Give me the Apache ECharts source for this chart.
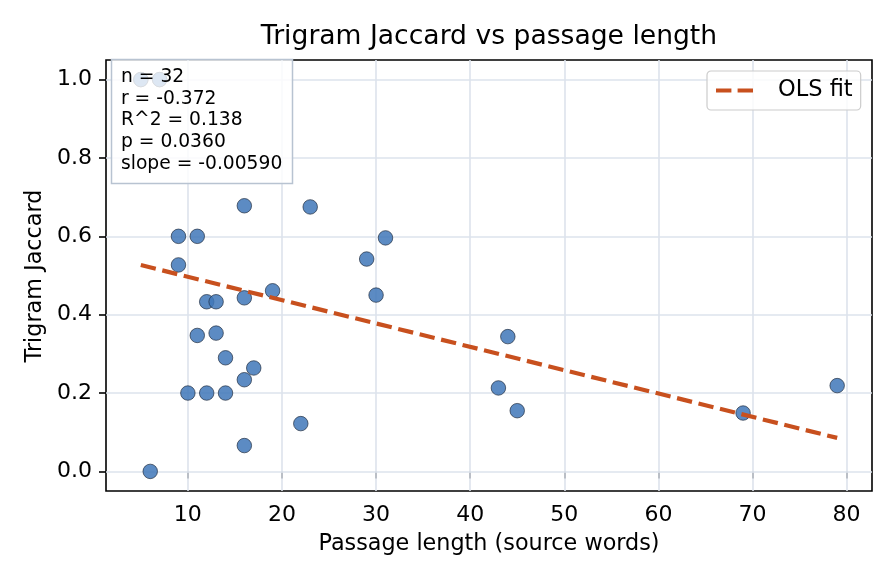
<!DOCTYPE html>
<html><head><meta charset="utf-8">
<script src="https://cdn.jsdelivr.net/npm/echarts@6/dist/echarts.min.js"></script>
<style>html,body{margin:0;padding:0;background:#fff}#c{width:896px;height:584px}</style>
</head><body><div id="c"></div>
<script>
// ---- data ----
const passageLength = [6, 9, 11, 9, 11, 10, 12, 14, 12, 13, 13, 14, 16, 17, 16, 16, 16, 19, 22, 23, 29, 30, 31, 43, 44, 45, 69, 79, 5, 5, 7, 7];
const trigramJaccard = [0.0, 0.6, 0.6, 0.527, 0.347, 0.2, 0.2, 0.2, 0.433, 0.433, 0.353, 0.29, 0.234, 0.264, 0.066, 0.443, 0.678, 0.461, 0.122, 0.675, 0.542, 0.45, 0.596, 0.213, 0.344, 0.155, 0.149, 0.219, 1.0, 1.0, 1.0, 1.0];
const xTicks = [10, 20, 30, 40, 50, 60, 70, 80];
const yTicks = [0.0, 0.2, 0.4, 0.6, 0.8, 1.0];
const statsLines = ['n = 32', 'r = -0.372', 'R^2 = 0.138', 'p = 0.0360', 'slope = -0.00590'];
const titleText = 'Trigram Jaccard vs passage length';
const xLabel = 'Passage length (source words)';
const yLabel = 'Trigram Jaccard';
const fitName = 'OLS fit';

// ---- OLS fit computed from the data ----
const n = passageLength.length;
const mx = passageLength.reduce((a, b) => a + b, 0) / n;
const my = trigramJaccard.reduce((a, b) => a + b, 0) / n;
let sxy = 0, sxx = 0;
for (let i = 0; i < n; i++) { sxy += (passageLength[i] - mx) * (trigramJaccard[i] - my); sxx += (passageLength[i] - mx) ** 2; }
const slope = sxy / sxx, icpt = my - slope * mx;
const xMin = Math.min(...passageLength), xMax = Math.max(...passageLength);
const fitData = [[xMin, icpt + slope * xMin], [xMax, icpt + slope * xMax]];

const FONT = 'DejaVu Sans';
const FIT_COLOR = '#c8501e';
const GRID = { left: 106, top: 60, right: 24, bottom: 93 };
const chart = echarts.init(document.getElementById('c'), null, { renderer: 'canvas' });

const statsGraphics = [{
  type: 'rect', zlevel: 1, z: 100, silent: true,
  shape: { x: 111.5, y: 59.5, width: 181, height: 124 },
  style: { fill: 'rgba(255,255,255,0.82)', stroke: '#b8c3d1', lineWidth: 1.5 }
}].concat(statsLines.map((t, i) => ({
  type: 'text', zlevel: 1, z: 101, silent: true, x: 121, y: 77 + i * 21.8,
  style: { text: t, fill: '#000', font: `18.7px "${FONT}"`, textAlign: 'left', textVerticalAlign: 'middle' }
})));

chart.setOption({
  animation: false,
  backgroundColor: '#fff',
  grid: Object.assign({ show: true, borderColor: '#000', borderWidth: 1.6, backgroundColor: 'transparent', outerBoundsMode: 'none', containLabel: false }, GRID),
  xAxis: {
    type: 'value', min: 1.3, max: 82.7,
    axisLine: { show: false },
    axisTick: { show: true, length: 7, lineStyle: { color: '#000', width: 1.6 }, customValues: xTicks },
    axisLabel: { show: true, margin: 13, fontSize: 22, fontFamily: FONT, color: '#000', customValues: xTicks, formatter: v => String(v) },
    splitLine: { show: false }
  },
  yAxis: {
    type: 'value', min: -0.05, max: 1.05,
    axisLine: { show: false },
    axisTick: { show: true, length: 7, lineStyle: { color: '#000', width: 1.6 }, customValues: yTicks },
    axisLabel: { show: true, margin: 14, fontSize: 22, fontFamily: FONT, color: '#000', customValues: yTicks, formatter: v => v.toFixed(1) },
    splitLine: { show: false }
  },
  legend: {
    data: [{ name: fitName, icon: 'path://M0,0h15.4v4.2h-15.4z M21.6,0h15.4v4.2h-15.4z' }],
    left: 707, top: 71, orient: 'horizontal',
    padding: [8, 8, 8, 9], itemWidth: 37, itemHeight: 4.2, itemGap: 0,
    itemStyle: { color: FIT_COLOR, borderWidth: 0 },
    backgroundColor: 'rgba(255,255,255,0.8)', borderColor: '#cccccc', borderWidth: 1.2, borderRadius: 4,
    textStyle: { fontSize: 22.5, fontFamily: FONT, color: '#000', padding: [0, 0, 0, 20] }
  },
  graphic: [
    { type: 'text', x: 489, y: 37.5, silent: true,
      style: { text: titleText, fill: '#000', font: `26.6px "${FONT}"`, textAlign: 'center', textVerticalAlign: 'middle' } },
    { type: 'text', x: 489, y: 544, silent: true,
      style: { text: xLabel, fill: '#000', font: `22.3px "${FONT}"`, textAlign: 'center', textVerticalAlign: 'middle' } },
    { type: 'text', x: 35, y: 276, rotation: Math.PI / 2, silent: true,
      style: { text: yLabel, fill: '#000', font: `22.3px "${FONT}"`, textAlign: 'center', textVerticalAlign: 'middle' } }
  ].concat(statsGraphics),
  series: [
    {
      type: 'scatter', name: 'data', z: 2,
      data: passageLength.map((x, i) => [x, trigramJaccard[i]]),
      symbolSize: 14.5,
      itemStyle: { color: '#3f77b8', opacity: 0.85, borderColor: '#1e2a3c', borderWidth: 0.8 },
      markLine: {
        silent: true, z: 1, symbol: ['none', 'none'], animation: false,
        label: { show: false },
        lineStyle: { color: '#dde3ec', width: 1.6, type: 'solid' },
        emphasis: { disabled: true },
        data: xTicks.map(v => ({ xAxis: v })).concat(yTicks.map(v => ({ yAxis: v })))
      }
    },
    {
      type: 'line', name: fitName, z: 4, symbol: 'none', showSymbol: false,
      data: fitData,
      lineStyle: { color: FIT_COLOR, width: 4.2, type: [15.4, 6.7] },
      itemStyle: { color: FIT_COLOR }
    }
  ]
});
</script>
</body></html>
